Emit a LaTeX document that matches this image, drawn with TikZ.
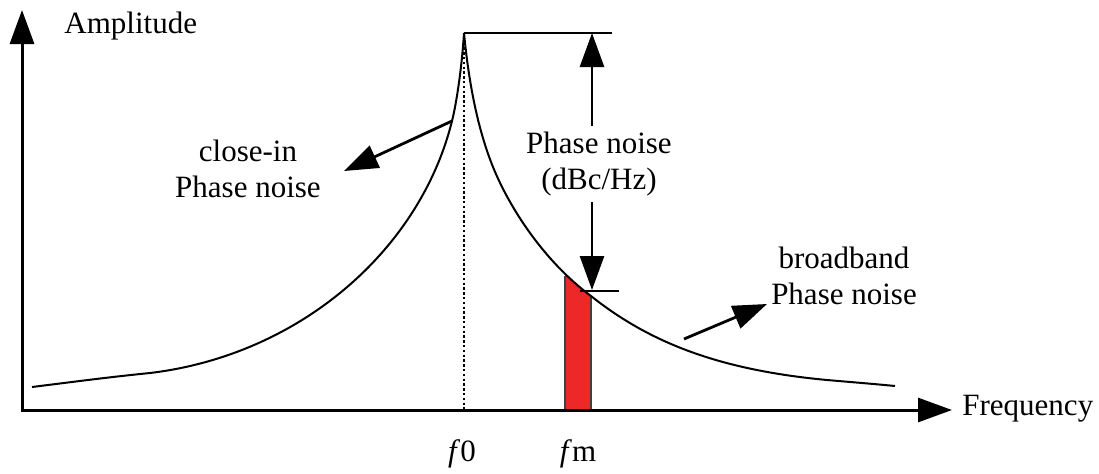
\documentclass[tikz,border=0pt]{standalone}
\usepackage{fontspec}
\setmainfont{Liberation Serif}
\usetikzlibrary{positioning,arrows.meta}
\definecolor{noisered}{RGB}{236,40,40}
\tikzset{
  bigtip/.style={-{Triangle[length=17pt,width=12pt]}},
  lbl/.style={font=\fontsize{15.5pt}{18pt}\selectfont, align=center, inner sep=1pt}
}
\begin{document}
\begin{tikzpicture}[x=0.5pt,y=-0.5pt]
\useasboundingbox (0,0) rectangle (1099,473);
\coordinate (O) at (22,410);
\coordinate (ytip) at (22,10);
\coordinate (xtip) at (952,410);
\coordinate (peak) at (464,33);
\coordinate (base0) at (464,410);
\coordinate (topend) at (612,33);
\coordinate (pntop) at (592,33);
\coordinate (pnbot) at (592,290);
\coordinate (tickl) at (580,291);
\coordinate (tickr) at (619,291);
\coordinate (cistart) at (452,121);
\coordinate (citip) at (344,171);
\coordinate (bbstart) at (684,339);
\coordinate (bbtip) at (767,304);

\begin{scope}
\clip (565,0) rectangle (591,410);
\fill[noisered] (peak) .. controls (468,75) and (476,125) .. (493,167)
  .. controls (510,209) and (545,262) .. (591,296) -- (640,296) -- (640,410) -- (base0) -- cycle;
\end{scope}
\draw[line width=0.8pt,black!75] (565,410) -- (565,276) (591,296) -- (591,410);

\draw[line width=1pt] (32,387) .. controls (80,381) and (110,377) .. (150,373)
  .. controls (300,355) and (420,250) .. (cistart)
  .. controls (457,101) and (462,65) .. (peak);
\draw[line width=1pt] (peak) .. controls (468,75) and (476,125) .. (493,167)
  .. controls (510,209) and (545,262) .. (591,296)
  .. controls (650,343) and (720,370) .. (827,380)
  .. controls (850,382) and (875,384) .. (895,386);

\draw[line width=0.9pt,dash pattern=on 1.2pt off 1.2pt] (peak) -- (base0);
\draw[line width=1pt] (peak) -- (topend);
\draw[line width=1pt] (tickl) -- (tickr);

\draw[line width=1.5pt,{Triangle[length=17pt,width=12pt]}-{Triangle[length=17pt,width=12pt]}] (ytip) -- (O) -- (xtip);
\draw[line width=1.4pt,{Triangle[length=17pt,width=12pt]}-{Triangle[length=17pt,width=12pt]}] (pntop) -- (pnbot);
\draw[line width=1.4pt,bigtip] (cistart) -- (citip);
\draw[line width=1.4pt,bigtip] (bbstart) -- (bbtip);

\node[lbl,anchor=base west] (amp) at (62,33) {Amplitude};
\node[lbl,anchor=base west] (freq) at (960,415) {Frequency};
\node[lbl,anchor=base] (lf0) at (462,461) {\textit{f}0};
\node[lbl,anchor=base] (lfm) at (578,461) {\textit{f}m};
\node[lbl] (closein) at (248,169) {close-in\\Phase noise};
\node[lbl,fill=white,inner sep=3pt] (pn) at (599,164) {Phase noise\\(dBc/Hz)};
\node[lbl] (broad) at (844,276) {broadband\\Phase noise};
\end{tikzpicture}
\end{document}
